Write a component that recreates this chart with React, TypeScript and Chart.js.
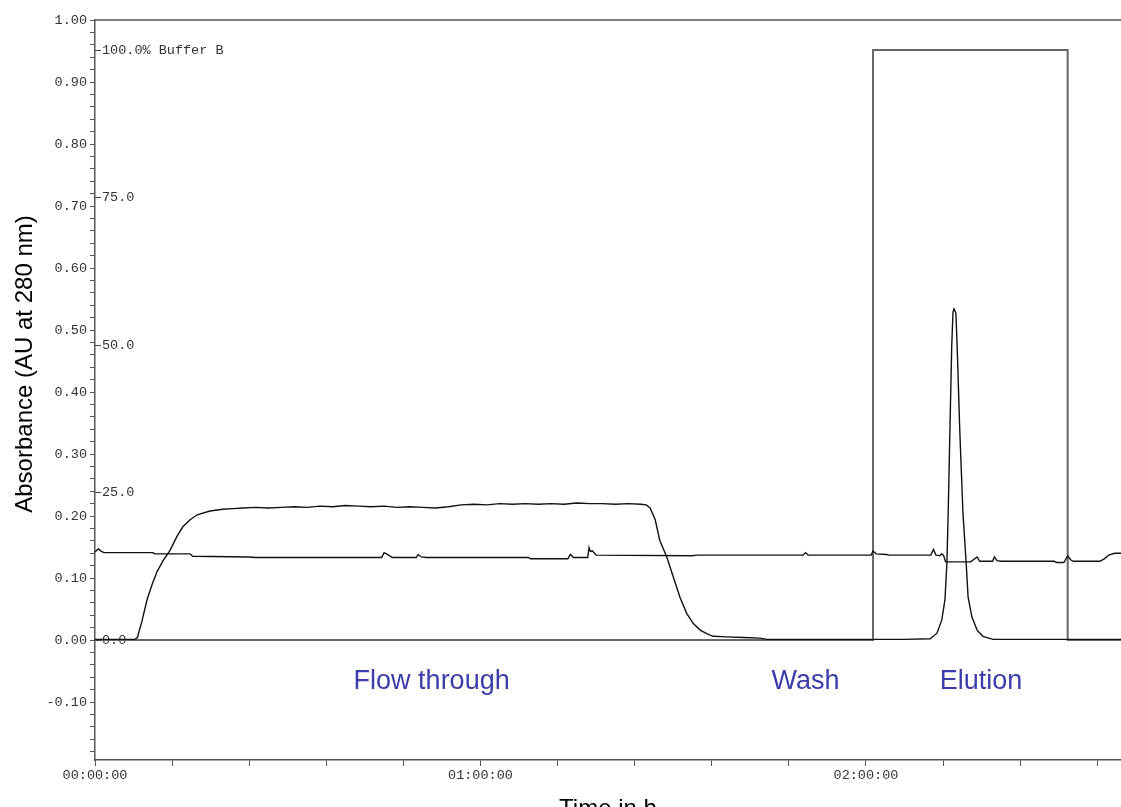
import React, { useEffect, useRef } from "react";
import { Chart, registerables } from "chart.js";

Chart.register(...registerables);

// Time in minutes
const uvTime = [
  0, 3, 6.2, 6.6, 7.3, 8.1, 8.9, 9.65, 10.6, 11.7, 12.8, 13.7, 14.8, 15.9, 17.9, 19.9,
  21.5, 23, 25, 27, 29, 31, 33, 35, 37, 39, 41, 43, 45, 47, 49, 51, 53, 55, 57, 59, 61,
  63, 65, 67, 69, 71, 73, 75, 77, 79, 81, 83, 85, 85.8, 86.4, 87.2, 87.9, 89.0, 90.0,
  91.05, 92.1, 93.1, 94.2, 95.3, 96.2, 98.4, 101, 103.5, 104.6, 112, 121, 126, 130,
  131.05, 131.8, 132.3, 132.6, 132.8, 133.07, 133.35, 133.55, 133.7, 133.85, 134.0,
  134.2, 134.6, 135.1, 135.6, 135.9, 136.5, 137.3, 138.2, 139.8, 150, 159.7,
];
const uvValue = [
  0.001, 0.001, 0.001, 0.004, 0.03, 0.065, 0.09, 0.11, 0.128, 0.145, 0.168, 0.183, 0.194,
  0.202, 0.208, 0.211, 0.212, 0.213, 0.214, 0.213, 0.214, 0.215, 0.214, 0.216, 0.215,
  0.217, 0.216, 0.215, 0.216, 0.214, 0.215, 0.214, 0.213, 0.215, 0.218, 0.219, 0.218,
  0.22, 0.219, 0.22, 0.219, 0.22, 0.219, 0.221, 0.22, 0.22, 0.219, 0.22, 0.219, 0.218,
  0.213, 0.194, 0.161, 0.134, 0.102, 0.069, 0.043, 0.027, 0.016, 0.01, 0.006, 0.005,
  0.004, 0.003, 0.001, 0.001, 0.001, 0.001, 0.002, 0.011, 0.032, 0.065, 0.124, 0.205,
  0.339, 0.473, 0.529, 0.534, 0.531, 0.527, 0.473, 0.339, 0.205, 0.124, 0.069, 0.037,
  0.016, 0.006, 0.001, 0.001, 0.001,
];

const trace2Time = [
  0, 0.5, 1.0, 1.4, 9.0, 9.3, 14.8, 15.2, 24.0, 25.0, 44.6, 45.0, 45.5, 46.3, 50.0, 50.3,
  50.8, 51.5, 67.5, 67.8, 73.6, 74.0, 74.5, 76.7, 76.9, 77.1, 77.4, 78.0, 93.0, 93.6,
  110.2, 110.6, 111.0, 120.8, 121.1, 121.6, 123.2, 123.6, 130.1, 130.5, 130.9, 131.5,
  131.8, 132.1, 132.4, 136.3, 137.3, 137.7, 139.7, 140.0, 140.4, 141.0, 149.3, 149.7,
  150.8, 151.4, 151.9, 152.3, 156.4, 157.1, 157.8, 158.7, 159.7,
];
const trace2Value = [
  0.142, 0.147, 0.143, 0.141, 0.141, 0.139, 0.139, 0.135, 0.134, 0.133, 0.133, 0.141,
  0.138, 0.133, 0.133, 0.138, 0.134, 0.133, 0.133, 0.131, 0.131, 0.138, 0.133, 0.133,
  0.149, 0.143, 0.144, 0.137, 0.136, 0.137, 0.137, 0.141, 0.137, 0.137, 0.1435, 0.139,
  0.138, 0.137, 0.137, 0.146, 0.137, 0.136, 0.139, 0.136, 0.126, 0.126, 0.134, 0.127,
  0.127, 0.134, 0.128, 0.127, 0.127, 0.125, 0.125, 0.1355, 0.129, 0.127, 0.127, 0.131,
  0.137, 0.14, 0.14,
];

// Buffer B (%)
const bufferTime = [0, 121.1, 121.1, 151.4, 151.4, 159.7];
const bufferValue = [0, 0, 100, 100, 0, 0];
const bufferTicks = [0, 25, 50, 75, 100];

const phaseLabels = ["Flow through", "Wash", "Elution"];
const phaseX = [52.4, 110.6, 137.9];
const phaseY = [-0.0795, -0.0795, -0.0795];

const yTitle = "Absorbance (AU at 280 nm)";
const xTitle = "Time in h";

const MONO = '"Liberation Mono", "Courier New", monospace';
const SANS = '"Liberation Sans", Arial, Helvetica, sans-serif';

const toPoints = (xs: number[], ys: number[]) => xs.map((x, i) => ({ x, y: ys[i] }));

const overlayPlugin = {
  id: "overlay",
  afterDraw(chart: any) {
    const { ctx, chartArea, scales } = chart;
    const y2 = scales.y2;
    ctx.save();
    // top frame line
    ctx.strokeStyle = "#555";
    ctx.lineWidth = 1.5;
    ctx.beginPath();
    ctx.moveTo(chartArea.left, chartArea.top);
    ctx.lineTo(chartArea.right, chartArea.top);
    ctx.stroke();
    // Buffer B tick dashes (inside plot)
    ctx.strokeStyle = "#444";
    ctx.lineWidth = 1;
    for (const t of y2.ticks) {
      const py = Math.round(y2.getPixelForValue(t.value)) + 0.5;
      ctx.beginPath();
      ctx.moveTo(chartArea.left, py);
      ctx.lineTo(chartArea.left + 6, py);
      ctx.stroke();
    }
    // phase labels
    ctx.font = `27px ${SANS}`;
    ctx.fillStyle = "#3c3caa";
    ctx.textAlign = "center";
    ctx.textBaseline = "alphabetic";
    phaseLabels.forEach((t, i) => {
      ctx.fillText(t, scales.x.getPixelForValue(phaseX[i]), scales.y.getPixelForValue(phaseY[i]));
    });
    // y axis title
    ctx.translate(25, 364);
    ctx.rotate(-Math.PI / 2);
    ctx.font = `24px ${SANS}`;
    ctx.fillStyle = "#000";
    ctx.textAlign = "center";
    ctx.textBaseline = "middle";
    ctx.fillText(yTitle, 0, 0);
    ctx.restore();
  },
};

const fmtTime = (v: number) => {
  const h = Math.floor(v / 60);
  return `${h < 10 ? "0" + h : h}:00:00`;
};

export default function App() {
  const ref = useRef<HTMLCanvasElement | null>(null);

  useEffect(() => {
    document.body.style.margin = "0";
    document.body.style.overflow = "hidden";
    if (!ref.current) return;
    const chart = new Chart(ref.current, {
      type: "line",
      data: {
        datasets: [
          {
            label: "UV 280 nm",
            data: toPoints(uvTime, uvValue),
            borderColor: "#111",
            borderWidth: 1.4,
            pointRadius: 0,
            tension: 0,
            yAxisID: "y",
            xAxisID: "x",
          },
          {
            label: "Trace 2",
            data: toPoints(trace2Time, trace2Value),
            borderColor: "#111",
            borderWidth: 1.4,
            pointRadius: 0,
            tension: 0,
            yAxisID: "y",
            xAxisID: "x",
          },
          {
            label: "Buffer B",
            data: toPoints(bufferTime, bufferValue),
            borderColor: "#666",
            borderWidth: 2,
            pointRadius: 0,
            tension: 0,
            yAxisID: "y2",
            xAxisID: "x",
          },
        ],
      },
      options: {
        animation: false,
        responsive: true,
        maintainAspectRatio: false,
        layout: { padding: { top: 20, left: 0, right: 0, bottom: 0 } },
        plugins: {
          legend: { display: false },
          tooltip: { enabled: false },
        },
        scales: {
          x: {
            type: "linear",
            position: "bottom",
            min: 0,
            max: 159.7,
            ticks: {
              stepSize: 12,
              autoSkip: false,
              includeBounds: false,
              maxRotation: 0,
              padding: 1,
              color: "#333",
              font: { family: MONO, size: 13.5 },
              callback: (v: any) => (Number(v) % 60 === 0 ? fmtTime(Number(v)) : ""),
            },
            grid: {
              display: true,
              drawOnChartArea: false,
              drawTicks: true,
              tickLength: 6,
              tickColor: "#555",
              tickWidth: 1,
            },
            border: { display: true, color: "#555", width: 1.5 },
            title: {
              display: true,
              text: xTitle,
              color: "#000",
              font: { family: SANS, size: 24, lineHeight: 0.2 },
              padding: { top: 0, bottom: -5 },
            },
            afterFit: (s: any) => {
              s.height = 47;
            },
          },
          y: {
            type: "linear",
            position: "left",
            min: -0.1935,
            max: 1.0,
            weight: 1,
            ticks: {
              stepSize: 0.02,
              autoSkip: false,
              includeBounds: false,
              padding: 3,
              color: "#333",
              font: { family: MONO, size: 13.5 },
              callback: (v: any) => {
                const n = Number(v);
                return Math.abs(n * 10 - Math.round(n * 10)) < 1e-6 ? n.toFixed(2) : "";
              },
            },
            grid: {
              display: true,
              drawOnChartArea: false,
              drawTicks: true,
              tickLength: 5,
              tickColor: "#555",
              tickWidth: 1,
            },
            border: { display: true, color: "#555", width: 1.5 },
            afterFit: (s: any) => {
              s.width = 95;
            },
          },
          y2: {
            type: "linear",
            position: "left",
            min: -20.34,
            max: 105.08,
            weight: 0,
            afterBuildTicks: (s: any) => {
              s.ticks = bufferTicks.map((v) => ({ value: v }));
            },
            ticks: {
              autoSkip: false,
              mirror: true,
              padding: 7,
              color: "#333",
              font: { family: MONO, size: 13.5 },
              callback: (v: any) => (Number(v) === 100 ? "100.0% Buffer B" : Number(v).toFixed(1)),
            },
            grid: { display: false },
            border: { display: false },
            afterFit: (s: any) => {
              s.width = 0;
            },
          },
        },
      } as any,
      plugins: [overlayPlugin],
    });
    return () => chart.destroy();
  }, []);

  return (
    <div style={{ position: "relative", width: "1121px", height: "807px", background: "#fff" }}>
      <canvas ref={ref} />
    </div>
  );
}
